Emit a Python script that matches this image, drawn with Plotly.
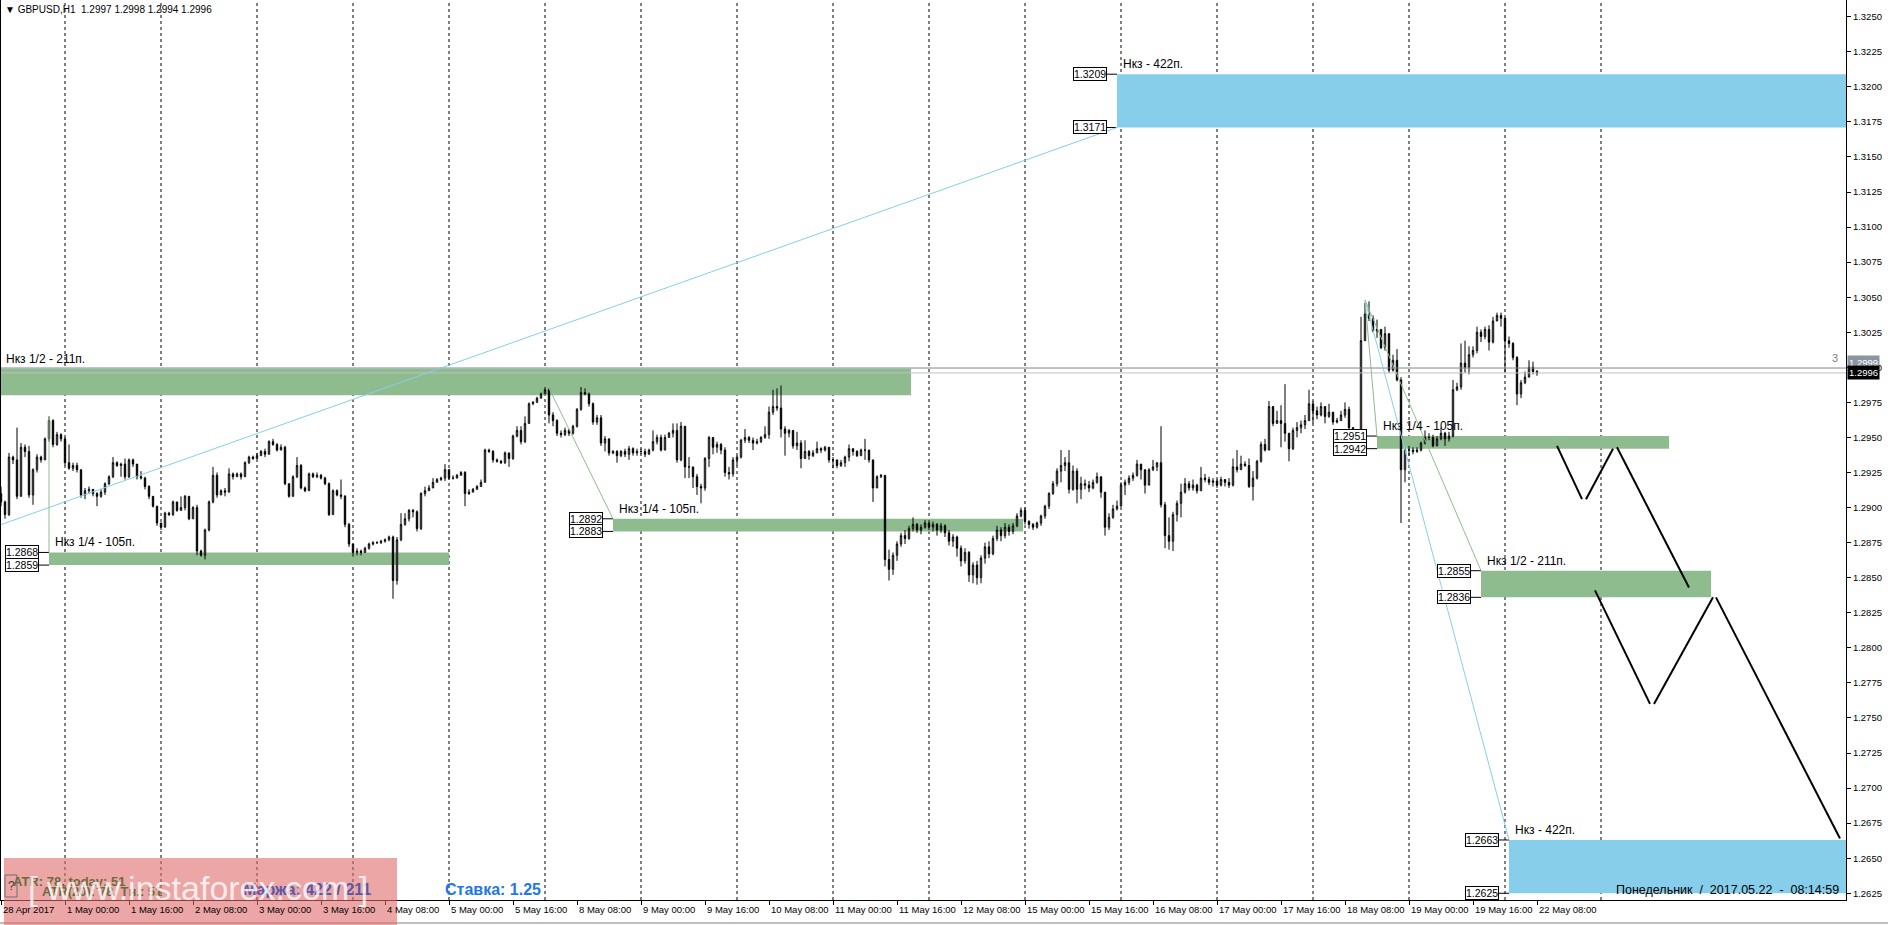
import plotly.graph_objects as go
import pandas as pd

# ---------------- data ----------------
header_text = "▼ GBPUSD,H1  1.2997 1.2998 1.2994 1.2996"

trading_days = ["2017-04-28", "2017-05-01", "2017-05-02", "2017-05-03", "2017-05-04", "2017-05-05",
                "2017-05-08", "2017-05-09", "2017-05-10", "2017-05-11", "2017-05-12",
                "2017-05-15", "2017-05-16", "2017-05-17", "2017-05-18", "2017-05-19", "2017-05-22"]
first_bar_hour = 8
last_bar_hour = 8

first_open_pips = 12910
close_pips = [
    12904, 12895, 12936, 12934, 12908, 12943, 12940, 12909, 12927, 12936, 12934, 12949, 12962, 12945, 12952, 12949,
    12932, 12928, 12930, 12927, 12909, 12912, 12913, 12910, 12908, 12911, 12917, 12922, 12932, 12930, 12931, 12922, 12934, 12931, 12922, 12921, 12915, 12908, 12901, 12889,
    12886, 12896, 12895, 12904, 12898, 12900, 12908, 12892, 12900, 12869, 12866, 12884, 12904, 12923, 12909, 12912, 12911, 12924, 12922, 12924, 12922, 12932, 12936, 12935,
    12937, 12940, 12938, 12947, 12945, 12941, 12943, 12917, 12908, 12922, 12930, 12914, 12912, 12924, 12922, 12923, 12921, 12917, 12895, 12912, 12909, 12908, 12888, 12874,
    12868, 12869, 12868, 12871, 12874, 12875, 12875, 12876, 12877, 12879, 12848, 12877, 12888, 12892, 12898, 12897, 12885, 12910, 12912, 12914, 12918, 12920, 12921, 12927,
    12921, 12921, 12923, 12925, 12910, 12911, 12913, 12915, 12918, 12941, 12940, 12934, 12933, 12932, 12939, 12935, 12951, 12955, 12947, 12960, 12974, 12975, 12978, 12981,
    12984, 12966, 12962, 12953, 12952, 12955, 12953, 12958, 12970, 12982, 12981, 12974, 12961, 12964, 12946, 12949, 12939, 12940, 12937, 12940, 12938, 12942, 12939, 12940,
    12940, 12938, 12941, 12947, 12950, 12941, 12950, 12953, 12955, 12934, 12958, 12929, 12929, 12922, 12915, 12914, 12935, 12950, 12943, 12945, 12941, 12925, 12924, 12934,
    12936, 12948, 12950, 12948, 12946, 12947, 12950, 12952, 12968, 12972, 12971, 12956, 12953, 12955, 12944, 12946, 12935, 12940, 12937, 12939, 12942, 12941, 12943, 12934,
    12934, 12930, 12932, 12936, 12942, 12940, 12937, 12941, 12941, 12934, 12914, 12922, 12923, 12863, 12856, 12866, 12874, 12880, 12878, 12885, 12888, 12884, 12886, 12889,
    12886, 12888, 12884, 12887, 12882, 12876, 12879, 12871, 12862, 12868, 12852, 12859, 12850, 12864, 12872, 12867, 12878, 12884, 12880, 12886, 12883, 12887, 12894, 12898,
    12890, 12888, 12886, 12889, 12894, 12901, 12910, 12917, 12926, 12930, 12932, 12913, 12926, 12913, 12917, 12916, 12914, 12918, 12922, 12911, 12886, 12893, 12899, 12901,
    12916, 12918, 12921, 12923, 12931, 12927, 12916, 12927, 12929, 12932, 12902, 12880, 12876, 12895, 12903, 12911, 12917, 12914, 12916, 12912, 12921, 12920, 12918, 12919,
    12916, 12920, 12918, 12916, 12929, 12927, 12931, 12930, 12915, 12921, 12933, 12945, 12941, 12972, 12960, 12962, 12960, 12953, 12942, 12955, 12957, 12959, 12962, 12974,
    12969, 12966, 12972, 12965, 12968, 12961, 12962, 12966, 12970, 12957, 12951, 12941, 13019, 13038, 13035, 13026, 13027, 13014, 13024, 12998, 13005, 12991, 12927, 12941,
    12941, 12940, 12941, 12946, 12950, 12950, 12944, 12949, 12953, 12949, 12951, 12984, 12986, 13003, 13000, 13009, 13012, 13025, 13022, 13027, 13018, 13033, 13037, 13035,
    13019, 13017, 13007, 12981, 12989, 12993, 13000, 12997, 12996,
]
high_pips = [
    12915, 12905, 12939, 12937, 12957, 12946, 12945, 12944, 12928, 12938, 12937, 12950, 12965, 12963, 12954, 12953,
    12950, 12945, 12932, 12932, 12927, 12914, 12915, 12913, 12911, 12913, 12918, 12923, 12936, 12933, 12932, 12935, 12935, 12935, 12931, 12926, 12922, 12916, 12908, 12901,
    12889, 12897, 12897, 12905, 12904, 12908, 12909, 12906, 12901, 12902, 12870, 12885, 12905, 12929, 12925, 12913, 12914, 12928, 12925, 12925, 12925, 12933, 12937, 12937,
    12939, 12941, 12942, 12948, 12949, 12946, 12945, 12944, 12917, 12923, 12936, 12931, 12915, 12925, 12925, 12925, 12924, 12922, 12918, 12913, 12913, 12920, 12909, 12889,
    12874, 12871, 12870, 12872, 12875, 12876, 12876, 12877, 12878, 12880, 12880, 12879, 12896, 12896, 12899, 12899, 12898, 12911, 12915, 12916, 12921, 12921, 12922, 12931,
    12927, 12923, 12924, 12926, 12926, 12913, 12914, 12916, 12920, 12942, 12942, 12941, 12935, 12934, 12940, 12939, 12952, 12958, 12958, 12965, 12975, 12976, 12979, 12982,
    12986, 12985, 12968, 12963, 12955, 12957, 12956, 12959, 12971, 12986, 12985, 12982, 12975, 12966, 12966, 12951, 12949, 12941, 12941, 12941, 12942, 12944, 12943, 12942,
    12942, 12942, 12942, 12955, 12952, 12952, 12952, 12954, 12960, 12960, 12961, 12957, 12936, 12929, 12924, 12917, 12936, 12951, 12950, 12947, 12946, 12943, 12929, 12936,
    12937, 12949, 12956, 12951, 12950, 12949, 12951, 12958, 12972, 12984, 12985, 12987, 12958, 12956, 12955, 12954, 12948, 12948, 12941, 12941, 12947, 12943, 12944, 12943,
    12936, 12934, 12934, 12937, 12945, 12942, 12941, 12942, 12949, 12941, 12934, 12923, 12924, 12923, 12870, 12868, 12876, 12882, 12884, 12887, 12893, 12889, 12888, 12891,
    12891, 12890, 12889, 12889, 12888, 12884, 12881, 12880, 12873, 12871, 12869, 12861, 12862, 12866, 12875, 12876, 12880, 12887, 12886, 12889, 12888, 12889, 12896, 12900,
    12900, 12891, 12889, 12890, 12895, 12902, 12911, 12919, 12928, 12941, 12936, 12941, 12930, 12928, 12922, 12920, 12919, 12920, 12925, 12922, 12911, 12896, 12902, 12905,
    12918, 12920, 12923, 12925, 12934, 12929, 12925, 12928, 12934, 12932, 12958, 12904, 12893, 12897, 12905, 12917, 12921, 12919, 12920, 12917, 12929, 12924, 12922, 12921,
    12920, 12922, 12920, 12921, 12935, 12941, 12937, 12933, 12935, 12926, 12934, 12947, 12949, 12976, 12972, 12969, 12973, 12988, 12953, 12957, 12961, 12962, 12966, 12984,
    12976, 12972, 12975, 12970, 12974, 12968, 12964, 12969, 12975, 12972, 12957, 12954, 13036, 13046, 13047, 13037, 13034, 13027, 13029, 13024, 13009, 13013, 12993, 12942,
    12944, 12943, 12943, 12947, 12955, 12953, 12952, 12951, 12957, 12954, 12954, 12991, 12989, 13017, 13019, 13015, 13015, 13029, 13027, 13029, 13030, 13036, 13039, 13039,
    13022, 13022, 13018, 13008, 12991, 12997, 13005, 13004, 12998,
]
low_pips = [
    12901, 12892, 12894, 12931, 12906, 12908, 12936, 12907, 12902, 12925, 12932, 12934, 12947, 12943, 12944, 12947,
    12930, 12927, 12926, 12925, 12907, 12906, 12910, 12908, 12901, 12907, 12909, 12916, 12921, 12929, 12922, 12920, 12921, 12929, 12920, 12920, 12913, 12906, 12900, 12887,
    12884, 12886, 12894, 12894, 12897, 12898, 12898, 12891, 12892, 12866, 12865, 12863, 12883, 12903, 12907, 12909, 12908, 12911, 12920, 12922, 12920, 12923, 12931, 12934,
    12935, 12937, 12936, 12938, 12944, 12940, 12942, 12916, 12907, 12908, 12921, 12913, 12911, 12912, 12921, 12921, 12920, 12916, 12894, 12895, 12908, 12906, 12886, 12872,
    12865, 12866, 12866, 12868, 12870, 12873, 12874, 12874, 12875, 12876, 12835, 12845, 12876, 12887, 12890, 12893, 12883, 12884, 12908, 12912, 12917, 12918, 12919, 12919,
    12920, 12920, 12921, 12923, 12901, 12909, 12911, 12913, 12915, 12918, 12939, 12932, 12932, 12931, 12931, 12929, 12934, 12950, 12945, 12946, 12960, 12973, 12975, 12978,
    12982, 12960, 12958, 12951, 12950, 12951, 12951, 12952, 12957, 12969, 12980, 12972, 12959, 12959, 12944, 12940, 12937, 12938, 12932, 12936, 12936, 12934, 12937, 12937,
    12938, 12936, 12939, 12940, 12945, 12940, 12944, 12950, 12950, 12932, 12933, 12921, 12921, 12914, 12909, 12903, 12912, 12929, 12938, 12939, 12938, 12922, 12920, 12922,
    12930, 12935, 12946, 12946, 12941, 12945, 12946, 12949, 12949, 12966, 12969, 12950, 12937, 12950, 12942, 12941, 12928, 12937, 12934, 12936, 12940, 12939, 12940, 12932,
    12928, 12928, 12929, 12929, 12933, 12937, 12936, 12937, 12934, 12932, 12904, 12914, 12921, 12858, 12848, 12852, 12862, 12872, 12874, 12877, 12883, 12882, 12881, 12885,
    12884, 12883, 12880, 12882, 12879, 12873, 12872, 12865, 12858, 12860, 12847, 12846, 12845, 12846, 12860, 12864, 12866, 12876, 12876, 12878, 12880, 12881, 12886, 12893,
    12888, 12885, 12884, 12885, 12887, 12892, 12899, 12909, 12915, 12918, 12926, 12910, 12912, 12903, 12906, 12913, 12911, 12913, 12917, 12907, 12880, 12884, 12892, 12898,
    12912, 12909, 12916, 12919, 12922, 12920, 12910, 12916, 12926, 12926, 12900, 12871, 12870, 12869, 12890, 12893, 12910, 12912, 12912, 12910, 12912, 12918, 12916, 12915,
    12914, 12915, 12915, 12914, 12915, 12925, 12927, 12929, 12914, 12905, 12920, 12932, 12940, 12949, 12958, 12960, 12943, 12947, 12933, 12941, 12950, 12953, 12956, 12962,
    12960, 12963, 12965, 12960, 12964, 12959, 12960, 12962, 12964, 12954, 12946, 12937, 12941, 13019, 13033, 13025, 13021, 13013, 13012, 12996, 12997, 12990, 12889, 12918,
    12937, 12938, 12939, 12940, 12945, 12948, 12943, 12946, 12948, 12944, 12947, 12950, 12983, 12984, 12996, 12995, 13007, 13010, 13018, 13020, 13012, 13017, 13035, 13029,
    12996, 13014, 13005, 12973, 12978, 12988, 12995, 12995, 12994,
]

tick_times = ["2017-04-28 08:00", "2017-05-01 00:00", "2017-05-01 16:00", "2017-05-02 08:00", "2017-05-03 00:00",
              "2017-05-03 16:00", "2017-05-04 08:00", "2017-05-05 00:00", "2017-05-05 16:00", "2017-05-08 08:00",
              "2017-05-09 00:00", "2017-05-09 16:00", "2017-05-10 08:00", "2017-05-11 00:00", "2017-05-11 16:00",
              "2017-05-12 08:00", "2017-05-15 00:00", "2017-05-15 16:00", "2017-05-16 08:00", "2017-05-17 00:00",
              "2017-05-17 16:00", "2017-05-18 08:00", "2017-05-19 00:00", "2017-05-19 16:00", "2017-05-22 08:00"]
tick_labels = ["28 Apr 2017", "1 May 00:00", "1 May 16:00", "2 May 08:00", "3 May 00:00", "3 May 16:00",
               "4 May 08:00", "5 May 00:00", "5 May 16:00", "8 May 08:00", "9 May 00:00", "9 May 16:00",
               "10 May 08:00", "11 May 00:00", "11 May 16:00", "12 May 08:00", "15 May 00:00", "15 May 16:00",
               "16 May 08:00", "17 May 00:00", "17 May 16:00", "18 May 08:00", "19 May 00:00", "19 May 16:00",
               "22 May 08:00"]

price_ticks = [round(1.2625 + 0.0025 * k, 4) for k in range(26)]

# target zones (bar-index extents, price levels)
zone_top = [1.2999, 1.2868, 1.2892, 1.2951, 1.2855, 1.3209, 1.2663]
zone_bottom = [1.2980, 1.2859, 1.2883, 1.2942, 1.2836, 1.3171, 1.2625]
zone_start = [-0.25, 12, 153, 344, 370, 279, 377]
zone_end = [227.5, 112, 255.5, 417, 427.5, 470, 470]
zone_text = ["Нкз 1/2 - 211п.", "Нкз 1/4 - 105п.", "Нкз 1/4 - 105п.", "Нкз 1/4 - 105п.",
             "Нкз 1/2 - 211п.", "Нкз - 422п.", "Нкз - 422п."]
zone_is_blue = [False, False, False, False, False, True, True]
zone_has_tags = [False, True, True, True, True, True, True]

# projection lines
proj_x0 = [-0.25, 137, 12, 341, 341, 341]
proj_y0 = [1.28876, 1.2985, 1.2965, 1.3048, 1.3048, 1.3048]
proj_x1 = [279, 153, 12, 344, 370, 377]
proj_y1 = [1.3171, 1.2892, 1.2868, 1.2951, 1.2855, 1.2663]
proj_blue = [True, False, False, False, False, True]

# forecast zigzag segments
zz_x0 = [389.0, 396.25, 404.0, 398.5, 413.25, 428.75]
zz_y0 = [1.2944, 1.2906, 1.2943, 1.2841, 1.2760, 1.2836]
zz_x1 = [395.25, 403.0, 422.0, 412.25, 428.0, 459.75]
zz_y1 = [1.2906, 1.2942, 1.2843, 1.2760, 1.2836, 1.2664]

bid_price = 1.2996
ask_price = 1.29995

# ---------------- build bars ----------------
bar_times = []
for k, d in enumerate(trading_days):
    h0 = first_bar_hour if k == 0 else 0
    h1 = last_bar_hour if k == len(trading_days) - 1 else 23
    for hh in range(h0, h1 + 1):
        bar_times.append(pd.Timestamp(d) + pd.Timedelta(hours=hh))
pos = {t: i for i, t in enumerate(bar_times)}
n = min(len(bar_times), len(close_pips), len(high_pips), len(low_pips))
xs = list(range(n))
c = [v / 10000 for v in close_pips[:n]]
o = [first_open_pips / 10000] + c[:-1]
h = [max(high_pips[i] / 10000, o[i], c[i]) for i in range(n)]
l = [min(low_pips[i] / 10000, o[i], c[i]) for i in range(n)]

tick_pos = [pos[pd.Timestamp(t)] for t in tick_times]
sep_pos = [pos[pd.Timestamp(d)] for d in trading_days[1:]]
sep_pos.append(sep_pos[-1] + 24)

FONT = "Liberation Sans"
fig = go.Figure()
fig.add_trace(go.Candlestick(
    x=xs, open=o, high=h, low=l, close=c,
    increasing=dict(line=dict(color="black", width=1), fillcolor="white"),
    decreasing=dict(line=dict(color="black", width=1), fillcolor="black"),
    whiskerwidth=0, showlegend=False, hoverinfo="skip"))

shapes = []
ann = []
GREEN = "#8FBC8F"
BLUE = "#87CEEB"
for i in range(len(zone_top)):
    shapes.append(dict(type="rect", xref="x", yref="y", x0=zone_start[i], x1=zone_end[i],
                       y0=zone_bottom[i], y1=zone_top[i], fillcolor=BLUE if zone_is_blue[i] else GREEN,
                       line=dict(width=0), layer="below"))
    ann.append(dict(x=zone_start[i], y=zone_top[i], xref="x", yref="y", text=zone_text[i],
                    showarrow=False, xanchor="left", yanchor="middle", xshift=4, yshift=10,
                    font=dict(family=FONT, size=12, color="black")))
    if zone_has_tags[i]:
        for p in (zone_top[i], zone_bottom[i]):
            ann.append(dict(x=zone_start[i], y=p, xref="x", yref="y", text=f"{p:.4f}", showarrow=False,
                            xanchor="right", yanchor="middle", xshift=-10, bgcolor="white",
                            bordercolor="black", borderwidth=1, borderpad=0,
                            font=dict(family=FONT, size=10.5, color="black")))
            shapes.append(dict(type="line", xref="x", yref="y", xsizemode="pixel", xanchor=zone_start[i],
                               x0=-10, x1=0, y0=p, y1=p, line=dict(color="black", width=1)))

for s in sep_pos:
    shapes.append(dict(type="line", xref="x", yref="paper", x0=s, x1=s, y0=0, y1=1,
                       line=dict(color="black", width=1, dash="3px,3px"), layer="below"))

shapes.append(dict(type="line", xref="paper", yref="y", x0=0, x1=1, y0=ask_price, y1=ask_price,
                   line=dict(color="#778899", width=1)))
shapes.append(dict(type="line", xref="paper", yref="y", x0=0, x1=1, y0=bid_price, y1=bid_price,
                   line=dict(color="#C0C0C0", width=1)))

for i in range(len(proj_x0)):
    shapes.append(dict(type="line", xref="x", yref="y", x0=proj_x0[i], y0=proj_y0[i], x1=proj_x1[i],
                       y1=proj_y1[i], line=dict(color=BLUE if proj_blue[i] else GREEN, width=1)))
for i in range(len(zz_x0)):
    shapes.append(dict(type="line", xref="x", yref="y", x0=zz_x0[i], y0=zz_y0[i], x1=zz_x1[i],
                       y1=zz_y1[i], line=dict(color="black", width=2)))

# left border and bottom strip
shapes.append(dict(type="line", xref="paper", yref="paper", xsizemode="pixel", xanchor=0, x0=0.5, x1=0.5,
                   y0=0, y1=1, line=dict(color="black", width=1)))
shapes.append(dict(type="line", xref="paper", yref="paper", x0=0, x1=1.03, y0=-23 / 900, y1=-23 / 900,
                   line=dict(color="#808080", width=1)))

# watermark panel
shapes.append(dict(type="rect", xref="paper", yref="paper", x0=4 / 1846, x1=397 / 1846,
                   y0=-25 / 900, y1=42 / 900, fillcolor="rgba(223,107,107,0.6)", line=dict(width=0),
                   layer="above"))
shapes.append(dict(type="rect", xref="paper", yref="paper", x0=5 / 1846, x1=17 / 1846,
                   y0=3 / 900, y1=25 / 900, fillcolor="rgba(0,0,0,0)",
                   line=dict(color="#707070", width=1), layer="above"))

# x labels
for tp, tl in zip(tick_pos, tick_labels):
    ann.append(dict(x=tp, y=0, xref="x", yref="paper", text=tl, showarrow=False, xanchor="left",
                    yanchor="top", xshift=0, yshift=-2, font=dict(family=FONT, size=9.5, color="black")))

ann.append(dict(x=0, y=1, xref="paper", yref="paper", text=header_text, showarrow=False, xanchor="left",
                yanchor="top", xshift=3, yshift=-2, font=dict(family=FONT, size=10, color="black")))
ann.append(dict(x=1, y=1.30066, xref="paper", yref="y", text="3", showarrow=False, xanchor="right",
                yanchor="middle", xshift=-6, font=dict(family=FONT, size=11, color="#808080")))
ann.append(dict(x=1, y=ask_price + 0.0004, xref="paper", yref="y", text="1.2999", showarrow=False,
                xanchor="left", yanchor="middle", xshift=1, bgcolor="#8C96A0", borderpad=1,
                font=dict(family=FONT, size=9.5, color="white")))
ann.append(dict(x=1, y=bid_price, xref="paper", yref="y", text="1.2996", showarrow=False,
                xanchor="left", yanchor="middle", xshift=1, bgcolor="black", borderpad=1,
                font=dict(family=FONT, size=9.5, color="white")))
ann.append(dict(x=1, y=10 / 900, xref="paper", yref="paper",
                text="Понедельник  /  2017.05.22  -  08:14:59", showarrow=False, xanchor="right",
                yanchor="middle", xshift=-5, font=dict(family=FONT, size=12.5, color="black")))
ann.append(dict(x=11 / 1846, y=19 / 900, xref="paper", yref="paper", text="<b>ATR: 78, today: 51</b>",
                showarrow=False, xanchor="left", yanchor="middle",
                font=dict(family=FONT, size=13, color="#6E6A3E")))
ann.append(dict(x=40 / 1846, y=9 / 900, xref="paper", yref="paper", text="<b>ATR(20): 78, Тн.: 51</b>",
                showarrow=False, xanchor="left", yanchor="middle",
                font=dict(family=FONT, size=13, color="#6E6A3E")))
ann.append(dict(x=241 / 1846, y=11 / 900, xref="paper", yref="paper", text="<b>Маржа: 422 / 211</b>",
                showarrow=False, xanchor="left", yanchor="middle",
                font=dict(family=FONT, size=16, color="#5858A8")))
ann.append(dict(x=443 / 1846, y=11 / 900, xref="paper", yref="paper", text="<b>Ставка: 1.25</b>",
                showarrow=False, xanchor="left", yanchor="middle",
                font=dict(family=FONT, size=16, color="#1E78E6")))
ann.append(dict(x=11 / 1846, y=14 / 900, xref="paper", yref="paper", text="?", showarrow=False,
                xanchor="center", yanchor="middle", font=dict(family=FONT, size=12, color="#404040")))
ann.append(dict(x=198 / 1846, y=12 / 900, xref="paper", yref="paper", text="[ www.instaforex.com ]",
                showarrow=False, xanchor="center", yanchor="middle",
                font=dict(family=FONT, size=34, color="rgba(255,255,255,0.8)")))

fig.update_layout(
    width=1888, height=925, autosize=False,
    margin=dict(l=0, r=42, t=0, b=25, pad=0),
    paper_bgcolor="white", plot_bgcolor="white",
    boxgap=0.5,
    shapes=shapes, annotations=ann,
    xaxis=dict(range=[-0.25, 461.25], rangeslider=dict(visible=False), showgrid=False, zeroline=False,
               tickmode="array", tickvals=tick_pos, showticklabels=False, ticks="outside", ticklen=4,
               tickcolor="black", showline=True, linecolor="black", linewidth=1, fixedrange=True),
    yaxis=dict(range=[1.26202, 1.32619], side="right", showgrid=False, zeroline=False,
               tickmode="array", tickvals=price_ticks, ticktext=[f"{v:.4f}" for v in price_ticks],
               ticks="outside", ticklen=4, tickcolor="black", showline=True, linecolor="black",
               linewidth=1, tickfont=dict(family=FONT, size=9.5, color="black"), fixedrange=True,
               ticklabeloverflow="allow"),
    showlegend=False,
)

fig.write_html("out.html", config={"displayModeBar": False},
               post_script="document.body.style.margin='0';document.body.style.overflow='hidden';")
